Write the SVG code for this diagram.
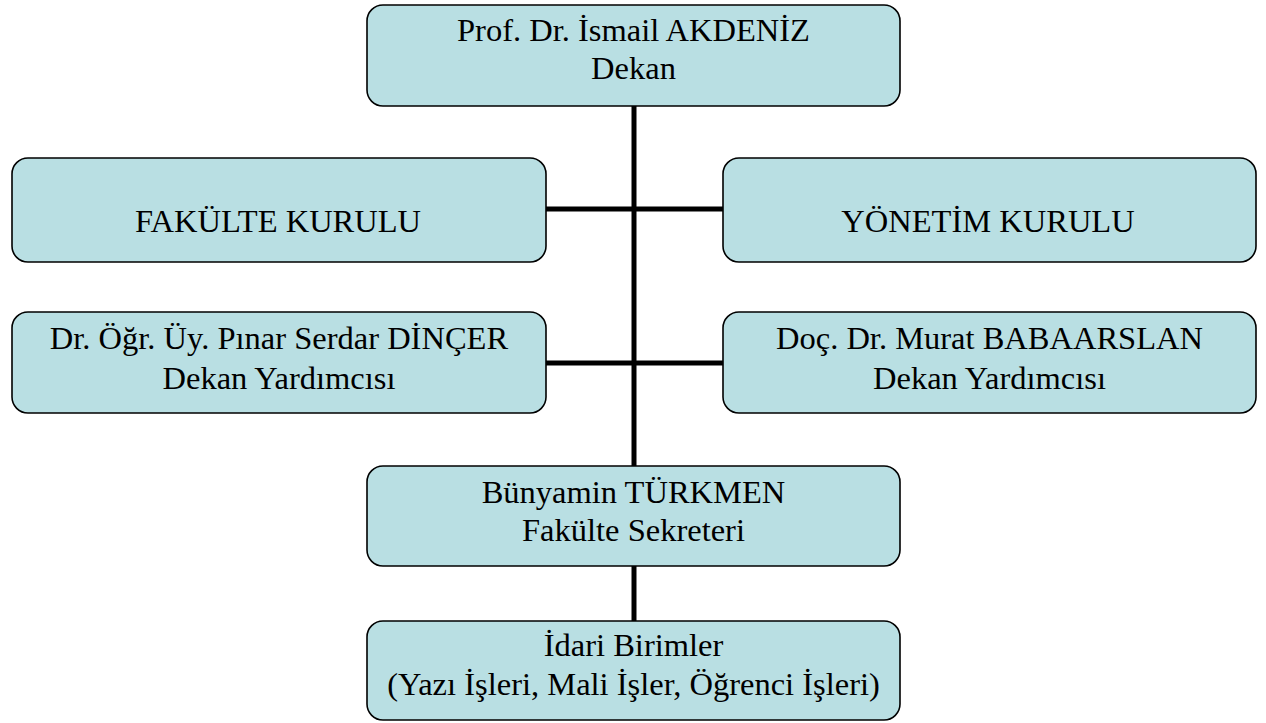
<svg xmlns="http://www.w3.org/2000/svg" width="1266" height="723" viewBox="0 0 1266 723">
<style>
.box{fill:#b9dfe3;stroke:#000;stroke-width:1.6}
.t{font-family:'Liberation Serif','Times New Roman',Tinos,'DejaVu Serif',serif;font-size:32.5px;fill:#000;text-anchor:middle}
.conn{stroke:#000;stroke-width:5;fill:none}
</style>
<rect width="1266" height="723" fill="#fff"/>
<g id="connectors">
<line class="conn" x1="634" y1="106" x2="634" y2="466"/>
<line class="conn" x1="634" y1="566" x2="634" y2="621"/>
<line class="conn" x1="546" y1="209" x2="723" y2="209"/>
<line class="conn" x1="546" y1="363" x2="723" y2="363"/>
</g>
<g id="dekan" class="t">
<rect class="box" x="367" y="5" width="533" height="101" rx="16"/>
<text x="633.5" y="41">Prof. Dr. İsmail AKDENİZ</text>
<text x="633.5" y="79">Dekan</text>
</g>
<g id="fakulte-kurulu" class="t">
<rect class="box" x="12" y="158" width="534" height="104" rx="16"/>
<text x="278" y="232">FAKÜLTE KURULU</text>
</g>
<g id="yonetim-kurulu" class="t">
<rect class="box" x="723" y="158" width="533" height="104" rx="16"/>
<text x="988" y="232">YÖNETİM KURULU</text>
</g>
<g id="dekan-yrd-1" class="t">
<rect class="box" x="12" y="312" width="534" height="101" rx="16"/>
<text x="279" y="349">Dr. Öğr. Üy. Pınar Serdar DİNÇER</text>
<text x="279" y="389">Dekan Yardımcısı</text>
</g>
<g id="dekan-yrd-2" class="t">
<rect class="box" x="723" y="312" width="533" height="101" rx="16"/>
<text x="989.5" y="349">Doç. Dr. Murat BABAARSLAN</text>
<text x="989.5" y="389">Dekan Yardımcısı</text>
</g>
<g id="sekreter" class="t">
<rect class="box" x="367" y="466" width="533" height="100" rx="16"/>
<text x="633.5" y="503">Bünyamin TÜRKMEN</text>
<text x="633.5" y="541">Fakülte Sekreteri</text>
</g>
<g id="idari" class="t">
<rect class="box" x="367" y="621" width="533" height="99" rx="16"/>
<text x="633.5" y="656">İdari Birimler</text>
<text x="633.5" y="695">(Yazı İşleri, Mali İşler, Öğrenci İşleri)</text>
</g>
</svg>
